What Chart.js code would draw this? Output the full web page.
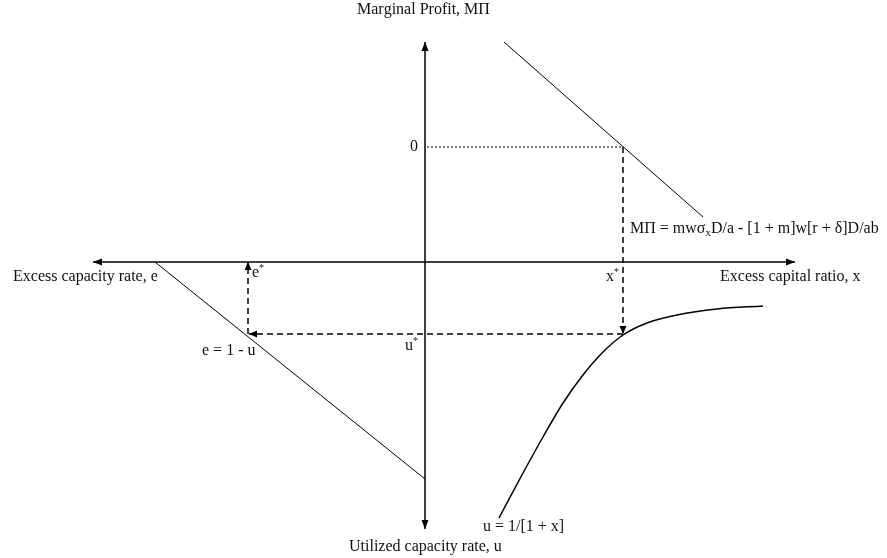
<!DOCTYPE html>
<html>
<head>
<meta charset="utf-8">
<script src="https://cdn.jsdelivr.net/npm/chart.js@4/dist/chart.umd.min.js"></script>
<style>
  html, body { margin: 0; padding: 0; background: #fff; }
  #wrap { width: 887px; height: 558px; position: relative; }
</style>
</head>
<body>
<div id="wrap"><canvas id="diagram"></canvas></div>
<script>
// Diagram units: origin where the two axes cross, x to the right, y up.
// One unit is roughly ten pixels of the original figure.

// ── Axes ──────────────────────────────────────────────────────────
const vAxisX = [0, 0];
const vAxisY = [-26.7, 22.0];
const hAxisX = [-33.2, 37.0];
const hAxisY = [0, 0];

// ── Schedules ─────────────────────────────────────────────────────
const mpLineX = [7.9, 27.8];          // marginal profit line
const mpLineY = [22.0, 4.5];
const eLineX  = [-27.0, 0];           // e = 1 - u
const eLineY  = [0, -21.7];
const uCurveX = [7.4, 9.8, 11.8, 13.8, 15.8, 17.8, 19.8, 22.2, 25.2, 29.2, 33.8];   // u = 1/[1 + x]
const uCurveY = [-25.6, -21.1, -17.5, -14.1, -11.3, -9.0, -7.3, -6.1, -5.3, -4.7, -4.4];

// ── Guide lines (equilibrium) ─────────────────────────────────────
const zeroX   = [0.2, 19.7];          // MΠ = 0 dotted
const zeroY   = [11.5, 11.5];
const xStarX  = [19.8, 19.8];         // x* down to curve
const xStarY  = [11.5, -7.2];
const uStarX  = [19.8, -17.6];        // u* across to e-line
const uStarY  = [-7.2, -7.2];
const eStarX  = [-17.7, -17.7];       // e* up to axis
const eStarY  = [-7.2, 0];

// ── Labels (^ = superscript char, _ = subscript char) ─────────────
const labelText = [
  'Marginal Profit, MΠ',
  'Utilized capacity rate, u',
  'Excess capacity rate, e',
  'Excess capital ratio, x',
  '0',
  'e^*',
  'x^*',
  'u^*',
  'e = 1 - u',
  'u = 1/[1 + x]',
  'MΠ = mwσ_xD/a - [1 + m]w[r + δ]D/ab'
];
const labelX = [-6.8, -7.6, -41.2, 29.5, -1.5, -17.3, 18.1, -2.0, -22.3, 5.8, 20.5];
const labelY = [25.2, -28.5, -1.5, -1.5, 11.5, -1.1, -1.5, -8.4, -8.9, -26.5, 3.3];

const FONT = "'Liberation Serif', 'Times New Roman', serif";

function pts(xs, ys) { return xs.map((x, i) => ({ x, y: ys[i] })); }

function line(xs, ys, opts) {
  return Object.assign({
    data: pts(xs, ys),
    showLine: true,
    borderColor: '#000',
    backgroundColor: '#000',
    borderWidth: 1,
    pointRadius: 0,
    pointHoverRadius: 0,
    fill: false,
    clip: false,
  }, opts || {});
}

// ── Plugin: arrowheads + rich text labels ─────────────────────────
function drawHead(ctx, tip, from, len, half) {
  const a = Math.atan2(tip.y - from.y, tip.x - from.x);
  const bx = tip.x - len * Math.cos(a), by = tip.y - len * Math.sin(a);
  ctx.beginPath();
  ctx.moveTo(tip.x, tip.y);
  ctx.lineTo(bx + half * Math.sin(a), by - half * Math.cos(a));
  ctx.lineTo(bx - half * Math.sin(a), by + half * Math.cos(a));
  ctx.closePath();
  ctx.fill();
}

function drawRich(ctx, str, x, y) {
  let cx = x;
  for (let i = 0; i < str.length; i++) {
    let ch = str[i], size = 16, dy = 0;
    if ((ch === '^' || ch === '_') && i + 1 < str.length) {
      const mark = ch;
      ch = str[++i];
      size = mark === '^' ? 10 : 11;
      dy = mark === '^' ? -5 : 4;
    }
    ctx.font = size + 'px ' + FONT;
    ctx.fillText(ch, cx, y + dy);
    cx += ctx.measureText(ch).width;
  }
}

const decor = {
  id: 'decor',
  afterDatasetsDraw(chart) {
    const ctx = chart.ctx;
    ctx.save();
    ctx.fillStyle = '#000';
    chart.data.datasets.forEach((ds, i) => {
      if (!ds.arrow) return;
      const el = chart.getDatasetMeta(i).data;
      const n = el.length;
      const len = ds.headLen || 10, half = ds.headHalf || 4;
      if (ds.arrow === 'end' || ds.arrow === 'both') drawHead(ctx, el[n - 1], el[n - 2], len, half);
      if (ds.arrow === 'start' || ds.arrow === 'both') drawHead(ctx, el[0], el[1], len, half);
    });
    const sx = chart.scales.x, sy = chart.scales.y;
    ctx.fillStyle = '#111';
    ctx.textBaseline = 'middle';
    ctx.textAlign = 'left';
    labelText.forEach((t, i) => {
      drawRich(ctx, t, sx.getPixelForValue(labelX[i]), sy.getPixelForValue(labelY[i]));
    });
    ctx.restore();
  }
};

new Chart(document.getElementById('diagram'), {
  type: 'scatter',
  data: {
    datasets: [
      line(vAxisX, vAxisY, { borderWidth: 1.5, arrow: 'both', headLen: 9, headHalf: 3.5 }),
      line(hAxisX, hAxisY, { borderWidth: 1.5, arrow: 'both', headLen: 9, headHalf: 3.5 }),
      line(mpLineX, mpLineY),
      line(eLineX, eLineY),
      line(uCurveX, uCurveY, { borderWidth: 1.5, cubicInterpolationMode: 'monotone' }),
      line(zeroX, zeroY, { borderDash: [2, 2] }),
      line(xStarX, xStarY, { borderWidth: 1.5, borderDash: [6, 4], arrow: 'end', headLen: 8, headHalf: 3.5 }),
      line(uStarX, uStarY, { borderWidth: 1.5, borderDash: [6, 4], arrow: 'end', headLen: 8, headHalf: 3.5 }),
      line(eStarX, eStarY, { borderWidth: 1.5, borderDash: [6, 4], arrow: 'end', headLen: 8, headHalf: 3.5 }),
    ]
  },
  options: {
    responsive: true,
    maintainAspectRatio: false,
    animation: false,
    events: [],
    layout: { padding: 0 },
    plugins: { legend: { display: false }, tooltip: { enabled: false } },
    scales: {
      x: { type: 'linear', min: -42.5, max: 46.2, display: false },
      y: { type: 'linear', min: -29.6, max: 26.2, display: false },
    }
  },
  plugins: [decor]
});
</script>
</body>
</html>
